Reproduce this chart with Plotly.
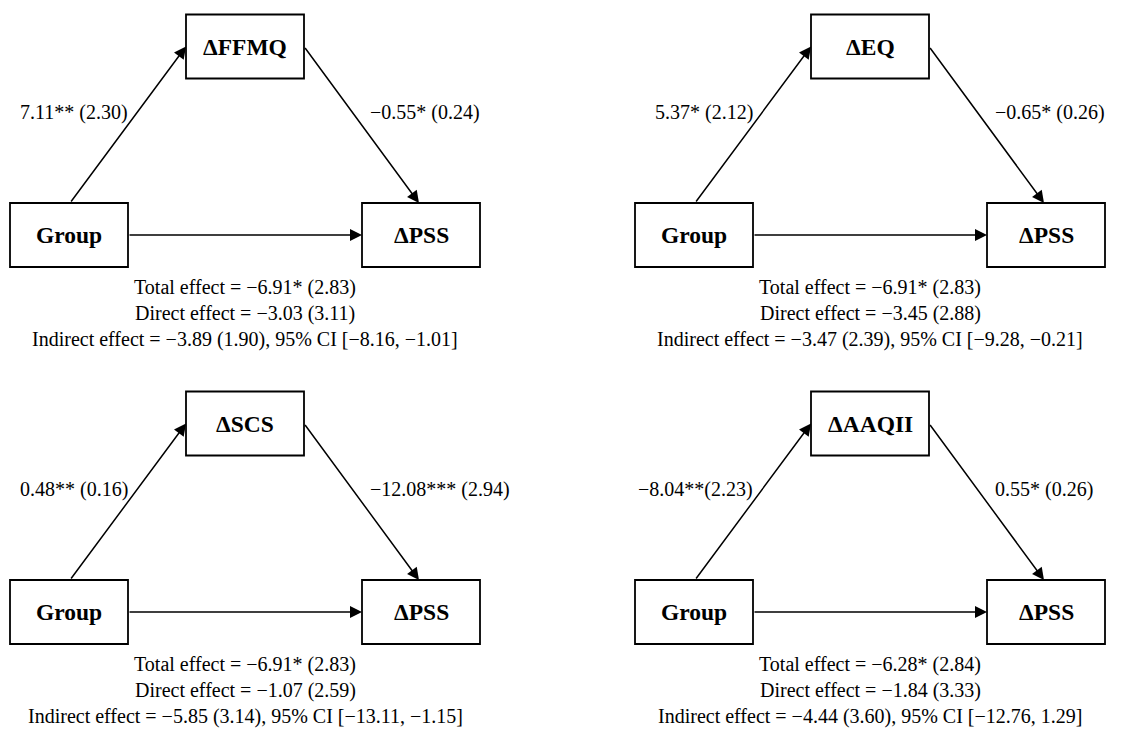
import plotly.graph_objects as go

# ---- data ----
predictor = "Group"
outcome = "ΔPSS"
mediators = ["ΔFFMQ", "ΔEQ", "ΔSCS", "ΔAAQII"]
path_a = ["7.11** (2.30)", "5.37* (2.12)", "0.48** (0.16)", "−8.04**(2.23)"]
path_b = ["−0.55* (0.24)", "−0.65* (0.26)", "−12.08*** (2.94)", "0.55* (0.26)"]
total_effect = ["−6.91* (2.83)", "−6.91* (2.83)", "−6.91* (2.83)", "−6.28* (2.84)"]
direct_effect = ["−3.03 (3.11)", "−3.45 (2.88)", "−1.07 (2.59)", "−1.84 (3.33)"]
indirect_effect = ["−3.89 (1.90)", "−3.47 (2.39)", "−5.85 (3.14)", "−4.44 (3.60)"]
indirect_ci = ["[−8.16, −1.01]", "[−9.28, −0.21]", "[−13.11, −1.15]", "[−12.76, 1.29]"]

# ---- layout geometry (screen pixels; page body has an 8px margin) ----
PAGE_W, PAGE_H, M = 1145, 736, 8
FIG_W, FIG_H = PAGE_W - M, PAGE_H - 2 * M
offsets = [(0, 0), (625, 0), (0, 377), (625, 377)]
BW, BH = 118, 64
grp_c = (69, 235)
med_c = (245, 46.5)
out_c = (421, 235)

FONT = "Liberation Serif, Times New Roman, serif"
fig = go.Figure()
shapes = []
annotations = []


def box(cx, cy):
    shapes.append(dict(type="rect", xref="x", yref="y",
                       x0=cx - BW / 2, x1=cx + BW / 2, y0=cy - BH / 2, y1=cy + BH / 2,
                       line=dict(color="black", width=1.8), fillcolor="white", layer="above"))


def label(x, y, text, size=20, bold=False, xanchor="center"):
    t = f"<b>{text}</b>" if bold else text
    annotations.append(dict(x=x, y=y, xref="x", yref="y", text=t, showarrow=False,
                            xanchor=xanchor, yanchor="middle",
                            font=dict(family=FONT, size=size, color="black")))


def arrow(x0, y0, x1, y1):
    annotations.append(dict(x=x1, y=y1, ax=x0, ay=y0, xref="x", yref="y",
                            axref="x", ayref="y", text="", showarrow=True,
                            arrowhead=2, arrowsize=1.6, arrowwidth=1.5,
                            arrowcolor="black", standoff=0, startstandoff=0))


for i, (ox, oy) in enumerate(offsets):
    g = (grp_c[0] + ox, grp_c[1] + oy)
    m = (med_c[0] + ox, med_c[1] + oy)
    o = (out_c[0] + ox, out_c[1] + oy)
    box(*g); box(*m); box(*o)
    label(g[0], g[1], predictor, size=23.5, bold=True)
    label(m[0], m[1], mediators[i], size=23.5, bold=True)
    label(o[0], o[1], outcome, size=23.5, bold=True)
    # paths
    arrow(g[0] + 1, g[1] - BH / 2, m[0] - BW / 2, m[1])
    arrow(m[0] + BW / 2, m[1], o[0] - 2, o[1] - BH / 2)
    arrow(g[0] + BW / 2, g[1], o[0] - BW / 2, o[1])
    # coefficient labels
    label(130 + ox, 112 + oy, path_a[i], xanchor="right")
    label(368 + ox, 112 + oy, path_b[i], xanchor="left")
    # effects
    cx = 245 + ox
    label(cx, 287 + oy, f"Total effect = {total_effect[i]}")
    label(cx, 313 + oy, f"Direct effect = {direct_effect[i]}")
    label(cx, 339 + oy, f"Indirect effect = {indirect_effect[i]}, 95% CI {indirect_ci[i]}")

fig.add_trace(go.Scatter(x=[M, PAGE_W], y=[M, PAGE_H - M], mode="markers",
                         marker=dict(opacity=0), hoverinfo="skip", showlegend=False))
fig.update_layout(width=FIG_W, height=FIG_H, margin=dict(l=0, r=0, t=0, b=0),
                  paper_bgcolor="white", plot_bgcolor="white",
                  shapes=shapes, annotations=annotations,
                  xaxis=dict(range=[M, PAGE_W], visible=False, fixedrange=True),
                  yaxis=dict(range=[PAGE_H - M, M], visible=False, fixedrange=True))
fig.write_html("out.html", config={"displayModeBar": False})
